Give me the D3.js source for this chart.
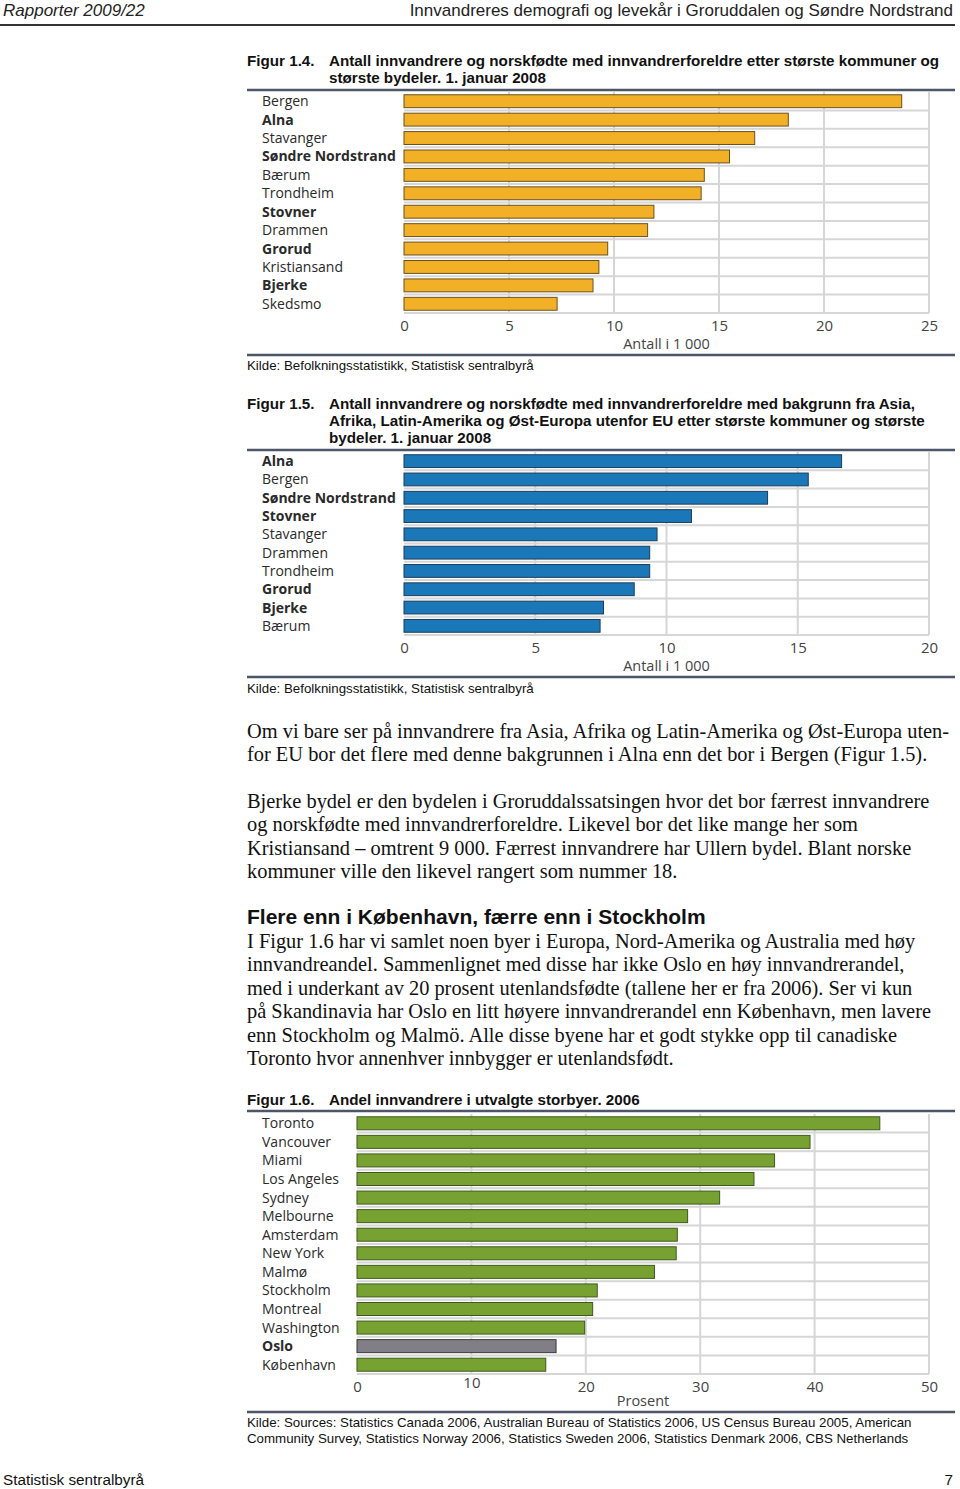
<!DOCTYPE html>
<html>
<head>
<meta charset="utf-8">
<script src="https://cdn.jsdelivr.net/npm/d3@7"></script>
<style>
  html, body { margin: 0; padding: 0; background: #fff; }
  svg { display: block; }
</style>
</head>
<body>
<div id="page"></div>
<script>
// Figur 1.4 - antall i 1 000
const fig14Places = ["Bergen", "Alna", "Stavanger", "Søndre Nordstrand", "Bærum", "Trondheim",
  "Stovner", "Drammen", "Grorud", "Kristiansand", "Bjerke", "Skedsmo"];
const fig14Values = [23.7, 18.3, 16.7, 15.5, 14.3, 14.15, 11.9, 11.6, 9.7, 9.28, 9.0, 7.29];
const fig14Ticks = [0, 5, 10, 15, 20, 25];

// Figur 1.5 - antall i 1 000
const fig15Places = ["Alna", "Bergen", "Søndre Nordstrand", "Stovner", "Stavanger", "Drammen",
  "Trondheim", "Grorud", "Bjerke", "Bærum"];
const fig15Values = [16.67, 15.4, 13.85, 10.95, 9.64, 9.36, 9.36, 8.77, 7.6, 7.47];
const fig15Ticks = [0, 5, 10, 15, 20];

// Figur 1.6 - prosent
const fig16Cities = ["Toronto", "Vancouver", "Miami", "Los Angeles", "Sydney", "Melbourne",
  "Amsterdam", "New York", "Malmø", "Stockholm", "Montreal", "Washington", "Oslo", "København"];
const fig16Values = [45.7, 39.6, 36.5, 34.7, 31.7, 28.9, 28.0, 27.9, 26.0, 21.0, 20.6, 19.9, 17.4, 16.5];
const fig16Ticks = [0, 10, 20, 30, 40, 50];

// bydeler i Oslo (vises i fet skrift)
const osloNames = ["Alna", "Søndre Nordstrand", "Stovner", "Grorud", "Bjerke", "Oslo"];

const W = 960, H = 1489;
const svg = d3.select("#page").append("svg")
    .attr("width", W)
    .attr("height", H);

const sans = "'Liberation Sans', Arial, sans-serif";
const labelFont = "'Open Sans', 'Noto Sans', sans-serif";
const serif = "'Liberation Serif', 'Times New Roman', serif";
const ruleColor = "#4b5668";
const gridColor = "#d6d6d6";

// header
svg.append("text").attr("x", 3).attr("y", 16)
    .style("font-family", sans).style("font-size", "17px").style("font-style", "italic")
    .attr("fill", "#222").text("Rapporter 2009/22");
svg.append("text").attr("x", 953).attr("y", 16).attr("text-anchor", "end")
    .style("font-family", sans).style("font-size", "17px")
    .attr("fill", "#222").text("Innvandreres demografi og levekår i Groruddalen og Søndre Nordstrand");
svg.append("line").attr("x1", 0).attr("x2", 955).attr("y1", 25).attr("y2", 25)
    .attr("stroke", "#333").attr("stroke-width", 2);

function figTitle(num, lines, y) {
  const g = svg.append("g").style("font-family", sans).style("font-size", "15.2px")
      .style("font-weight", "bold").attr("fill", "#111");
  g.append("text").attr("x", 247).attr("y", y).text(num);
  lines.forEach((l, i) => {
    g.append("text").attr("x", 329).attr("y", y + i * 17).text(l);
  });
}

function rule(y) {
  svg.append("line").attr("x1", 247).attr("x2", 955).attr("y1", y).attr("y2", y)
      .attr("stroke", ruleColor).attr("stroke-width", 2.5);
}

function source(lines, y) {
  lines.forEach((l, i) => {
    svg.append("text").attr("x", 247).attr("y", y + i * 16)
        .style("font-family", sans).style("font-size", "13.3px").attr("fill", "#111")
        .text(l);
  });
}

function barChart(cfg) {
  const g = svg.append("g");
  const x = d3.scaleLinear().domain(cfg.domain).range([cfg.x0, 929]);
  const y = d3.scaleBand().domain(cfg.labels).range([cfg.top, cfg.bottom])
      .paddingInner(0.3).paddingOuter(0.15);
  const step = y.step();

  // grid: row separators
  cfg.labels.forEach((d, i) => {
    const yy = cfg.top + step * (i + 1);
    g.append("line").attr("x1", cfg.x0).attr("x2", 929).attr("y1", yy).attr("y2", yy)
        .attr("stroke", gridColor).attr("stroke-width", 2);
  });
  // grid: vertical lines at ticks
  g.selectAll(".vgrid").data(cfg.ticks.slice(1)).enter().append("line")
      .attr("x1", d => x(d)).attr("x2", d => x(d))
      .attr("y1", cfg.top).attr("y2", cfg.bottom)
      .attr("stroke", gridColor).attr("stroke-width", 2);

  // bars
  g.selectAll(".bar").data(cfg.values).enter().append("rect")
      .attr("x", x(0))
      .attr("y", (d, i) => y(cfg.labels[i]))
      .attr("width", d => x(d) - x(0))
      .attr("height", y.bandwidth())
      .attr("fill", (d, i) => cfg.fill(cfg.labels[i]))
      .attr("stroke", (d, i) => cfg.stroke(cfg.labels[i]))
      .attr("stroke-width", 1);

  // category labels
  g.selectAll(".lab").data(cfg.labels).enter().append("text")
      .attr("x", 262)
      .attr("y", d => y(d) + y.bandwidth() / 2 + 5)
      .style("font-family", labelFont).style("font-size", "14px")
      .style("font-weight", d => osloNames.includes(d) ? "bold" : "normal")
      .attr("fill", "#2a2a2a")
      .text(d => d);

  // x axis
  const axis = d3.axisBottom(x).tickValues(cfg.ticks).tickSize(0).tickPadding(0);
  const ax = g.append("g").attr("transform", `translate(0,${cfg.bottom + 18})`).call(axis);
  ax.select(".domain").remove();
  ax.selectAll("text")
      .attr("dy", d => (cfg.raise && cfg.raise.includes(d)) ? "-4px" : "0")
      .style("font-family", labelFont).style("font-size", "15px")
      .attr("fill", "#444");

  g.append("text").attr("x", (cfg.x0 + 929) / 2).attr("y", cfg.bottom + cfg.unitOffset)
      .attr("text-anchor", "middle")
      .style("font-family", labelFont).style("font-size", "14.5px")
      .attr("fill", "#444").text(cfg.unit);
}

// ---------- Figur 1.4
figTitle("Figur 1.4.", ["Antall innvandrere og norskfødte med innvandrerforeldre etter største kommuner og",
  "største bydeler. 1. januar 2008"], 66);
rule(90);
barChart({
  labels: fig14Places, values: fig14Values, ticks: fig14Ticks, domain: [0, 25],
  x0: 404, top: 92, bottom: 313, unit: "Antall i 1 000", unitOffset: 36,
  fill: () => "#f2b026", stroke: () => "#6b5020"
});
rule(355);
source(["Kilde: Befolkningsstatistikk, Statistisk sentralbyrå"], 370);

// ---------- Figur 1.5
figTitle("Figur 1.5.", ["Antall innvandrere og norskfødte med innvandrerforeldre med bakgrunn fra Asia,",
  "Afrika, Latin-Amerika og Øst-Europa utenfor EU etter største kommuner og største",
  "bydeler. 1. januar 2008"], 409);
rule(450);
barChart({
  labels: fig15Places, values: fig15Values, ticks: fig15Ticks, domain: [0, 20],
  x0: 404, top: 452, bottom: 635, unit: "Antall i 1 000", unitOffset: 36,
  fill: () => "#1a77b8", stroke: () => "#1c3d5c"
});
rule(677);
source(["Kilde: Befolkningsstatistikk, Statistisk sentralbyrå"], 693);

// ---------- brødtekst
const para1 = ["Om vi bare ser på innvandrere fra Asia, Afrika og Latin-Amerika og Øst-Europa uten-",
  "for EU bor det flere med denne bakgrunnen i Alna enn det bor i Bergen (Figur 1.5)."];
const para2 = ["Bjerke bydel er den bydelen i Groruddalssatsingen hvor det bor færrest innvandrere",
  "og norskfødte med innvandrerforeldre. Likevel bor det like mange her som",
  "Kristiansand – omtrent 9 000. Færrest innvandrere har Ullern bydel. Blant norske",
  "kommuner ville den likevel rangert som nummer 18."];
const para3 = ["I Figur 1.6 har vi samlet noen byer i Europa, Nord-Amerika og Australia med høy",
  "innvandreandel. Sammenlignet med disse har ikke Oslo en høy innvandrerandel,",
  "med i underkant av 20 prosent utenlandsfødte (tallene her er fra 2006). Ser vi kun",
  "på Skandinavia har Oslo en litt høyere innvandrerandel enn København, men lavere",
  "enn Stockholm og Malmö. Alle disse byene har et godt stykke opp til canadiske",
  "Toronto hvor annenhver innbygger er utenlandsfødt."];

function paragraph(lines, y0) {
  lines.forEach((l, i) => {
    svg.append("text").attr("x", 247).attr("y", y0 + i * 23.4)
        .style("font-family", serif).style("font-size", "20.4px")
        .attr("fill", "#111").text(l);
  });
}
paragraph(para1, 738);
paragraph(para2, 808);
svg.append("text").attr("x", 247).attr("y", 924)
    .style("font-family", sans).style("font-size", "21px").style("font-weight", "bold")
    .attr("fill", "#111").text("Flere enn i København, færre enn i Stockholm");
paragraph(para3, 948);

// ---------- Figur 1.6
figTitle("Figur 1.6.", ["Andel innvandrere i utvalgte storbyer. 2006"], 1105);
rule(1111);
barChart({
  labels: fig16Cities, values: fig16Values, ticks: fig16Ticks, domain: [0, 50],
  x0: 357, top: 1114, bottom: 1374, unit: "Prosent", unitOffset: 32, raise: [10],
  fill: d => d === "Oslo" ? "#7f7f85" : "#77a232",
  stroke: d => d === "Oslo" ? "#3a3a3a" : "#3e5a1c"
});
rule(1412);
source(["Kilde: Sources: Statistics Canada 2006, Australian Bureau of Statistics 2006, US Census Bureau 2005, American",
  "Community Survey, Statistics Norway 2006, Statistics Sweden 2006, Statistics Denmark 2006, CBS Netherlands"], 1427);

// footer
svg.append("text").attr("x", 3).attr("y", 1485)
    .style("font-family", sans).style("font-size", "15.3px").attr("fill", "#111")
    .text("Statistisk sentralbyrå");
svg.append("text").attr("x", 953).attr("y", 1485).attr("text-anchor", "end")
    .style("font-family", sans).style("font-size", "15.3px").attr("fill", "#111")
    .text("7");
</script>
</body>
</html>
